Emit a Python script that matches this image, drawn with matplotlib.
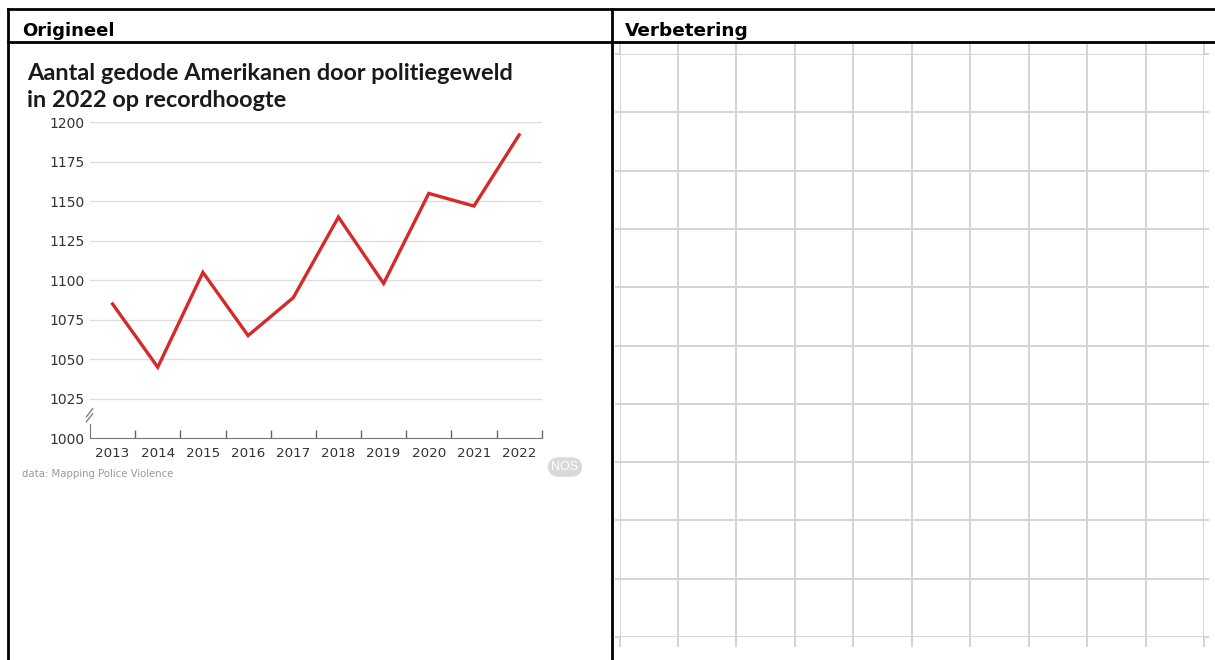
import matplotlib
matplotlib.use("Agg")
import matplotlib.pyplot as plt
from matplotlib.lines import Line2D

# data
years = ["2013", "2014", "2015", "2016", "2017", "2018", "2019", "2020", "2021", "2022"]
killed = [1085, 1045, 1105, 1065, 1089, 1140, 1098, 1155, 1147, 1192]
y_ticks = [1000, 1025, 1050, 1075, 1100, 1125, 1150, 1175, 1200]

W, H = 1215, 660
fig = plt.figure(figsize=(W / 100, H / 100), dpi=100)
fig.patch.set_facecolor("white")


def fx(x):
    return x / W


def fy(y):
    return 1 - y / H


# table frame
for xs, ys in [((8, 1215), (9, 9)), ((8, 1215), (42, 42)),
               ((8, 8), (9, 660)), ((612, 612), (9, 660))]:
    fig.add_artist(Line2D([fx(v) for v in xs], [fy(v) for v in ys],
                          transform=fig.transFigure, color="black", lw=2))

fig.text(fx(22), fy(36), "Origineel", fontsize=13, fontweight="bold",
         va="baseline", ha="left")
fig.text(fx(625), fy(36), "Verbetering", fontsize=13.3, fontweight="bold",
         va="baseline", ha="left")

# left: the original chart
title_font = dict(family="Lato", fontsize=16.9, fontweight="bold", color="#1a1a1a",
                  va="baseline", ha="left")
fig.text(fx(27), fy(80), "Aantal gedode Amerikanen door politiegeweld", **title_font)
fig.text(fx(27), fy(107), "in 2022 op recordhoogte", **title_font)

ax = fig.add_axes([fx(90), fy(438.3), fx(541.7 - 90), (438.3 - 122.3) / H])
x = list(range(len(years)))
ax.plot(x, killed, color="#d42a2a", lw=2.4, solid_joinstyle="miter", zorder=3)
ax.set_xlim(-0.5, len(years) - 0.5)
ax.set_ylim(1000, 1200)

ax.set_yticks(y_ticks)
ax.set_yticklabels([str(v) for v in y_ticks], fontsize=10, color="#333333")
ax.set_xticks(x)
ax.set_xticklabels(years, fontsize=9.7, color="#333333")
ax.set_xticks([i + 0.5 for i in x], minor=True)
ax.tick_params(axis="y", length=0, pad=4)
ax.tick_params(axis="x", which="major", length=0, pad=6)
ax.tick_params(axis="x", which="minor", direction="in", length=6, width=1, color="#666666")

for v in y_ticks[1:]:
    ax.axhline(v, color="#dddddd", lw=1, zorder=1)

for s in ["top", "right"]:
    ax.spines[s].set_visible(False)
ax.spines["bottom"].set_color("#777777")
ax.spines["left"].set_color("#777777")
ax.spines["left"].set_bounds(1000, 1009)

# axis break marks
for dy in (0.0, 0.016):
    ax.plot([-0.008, 0.006], [0.052 + dy, 0.078 + dy], transform=ax.transAxes,
            color="#777777", lw=0.9, clip_on=False)

fig.text(fx(22), fy(474), "data: Mapping Police Violence", fontsize=7.3,
         color="#999999", va="center", ha="left")
fig.text(fx(565), fy(467), "NOS", family="Liberation Sans", fontsize=9, color="white",
         va="center", ha="center",
         bbox=dict(boxstyle="round,pad=0.3,rounding_size=0.9", fc="#d9d9d9", ec="none"))

# right: empty grid
ax2 = fig.add_axes([fx(619.6), fy(637), fx(1204 - 619.6), (637 - 54) / H])
ax2.set_xlim(0, 10)
ax2.set_ylim(0, 10)
ax2.set_xticks(range(11))
ax2.set_yticks(range(11))
ax2.set_xticklabels([])
ax2.set_yticklabels([])
ax2.grid(True, color="#d4d4d4", lw=1.4)
ax2.tick_params(which="both", top=True, right=True, direction="out", length=3.5,
                width=1.4, color="#d4d4d4")
ax2.tick_params(axis="x", which="major", bottom=True, length=7)
for s in ax2.spines.values():
    s.set_visible(False)

fig.savefig("out.png", dpi=100)
